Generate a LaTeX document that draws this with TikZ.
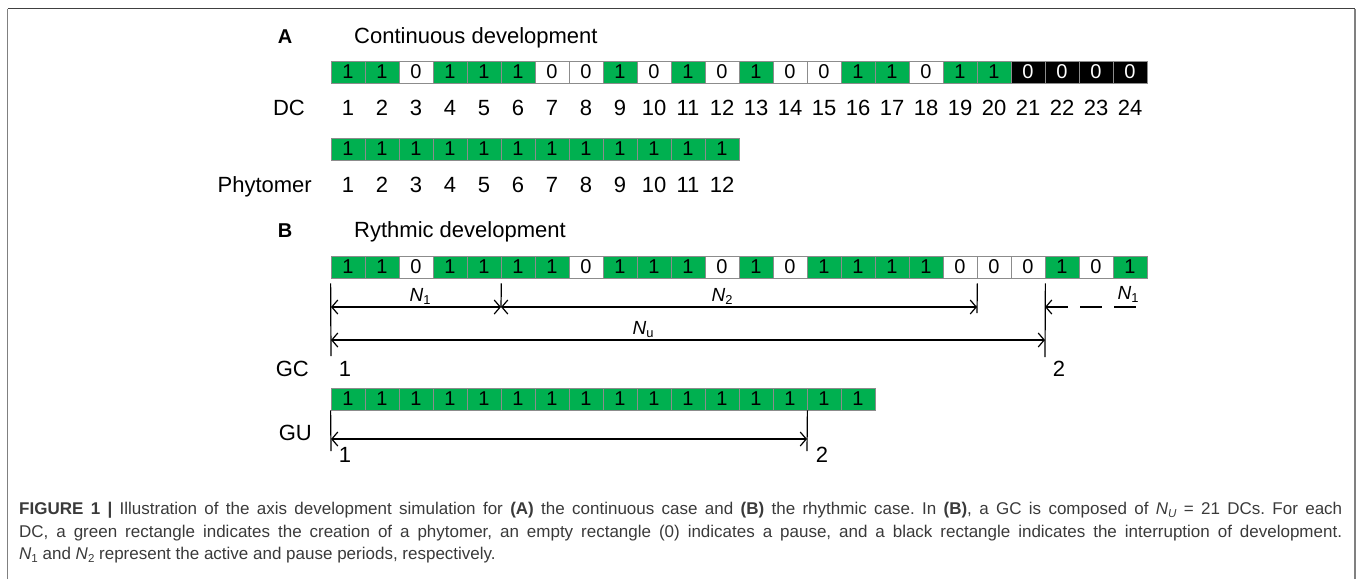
\documentclass[tikz,border=0pt]{standalone}
\usepackage{fontspec}
\setmainfont{Liberation Sans}
\usetikzlibrary{arrows.meta}
\definecolor{dcgreen}{RGB}{0,176,80}
\definecolor{capgray}{RGB}{58,58,58}
\newcommand{\Nidx}[1]{\textit{N}\raisebox{-0.3ex}{\scalebox{0.68}{#1}}}
\frenchspacing

\begin{document}
\begin{tikzpicture}
[
    x=1pt, y=-1pt,
    every node/.style={inner sep=0pt, font=\fontsize{22}{26}\selectfont},
    cell/.style={draw=black!45, line width=0.8pt, minimum width=34pt, minimum height=22pt, font=\fontsize{20}{24}\selectfont},
    cellon/.style={cell, fill=dcgreen},
    celloff/.style={cell, fill=white},
    cellend/.style={cell, fill=black, text=white},
    panel/.style={font=\bfseries\fontsize{20}{24}\selectfont, anchor=base},
    nlabel/.style={font=\fontsize{19}{22}\selectfont, anchor=base},
    dim/.style={line width=1.2pt, {Straight Barb[length=6pt,width=14pt]}-{Straight Barb[length=6pt,width=14pt]}},
    dashdim/.style={line width=1.2pt, dash pattern=on 22pt off 12pt, {Straight Barb[length=6pt,width=14pt]}-},
    tick/.style={line width=1.2pt},
]
\useasboundingbox (0,0) rectangle (1357,579);
\draw[black!50, line width=1.5pt] (7.5,579) -- (7.5,8.5);
\draw[black!50, line width=1.5pt] (1355,579) -- (1355,8.5);
\draw[black!75, line width=1.5pt] (7.5,8.5) -- (1355,8.5);

\node[panel] (lblA) at (285,43) {A};
\node[anchor=base west] (titleA) at (354,43) {Continuous development};
\foreach \s/\t [count=\i] in {on/1,on/1,off/0,on/1,on/1,on/1,off/0,off/0,on/1,off/0,on/1,off/0,
    on/1,off/0,off/0,on/1,on/1,off/0,on/1,on/1,end/0,end/0,end/0,end/0}
    \node[cell\s] (a\i) at (314+34*\i,72) {\t};
\node[anchor=base east] (dc) at (305,115) {DC};
\foreach \i in {1,...,24}
    \node[anchor=base] (an\i) at (314+34*\i,115) {\i};
\foreach \i in {1,...,12}
    \node[cellon] (p\i) at (314+34*\i,149) {1};
\node[anchor=base east] (phyt) at (312,192) {Phytomer};
\foreach \i in {1,...,12}
    \node[anchor=base] (pn\i) at (314+34*\i,192) {\i};

\node[panel] (lblB) at (285,237) {B};
\node[anchor=base west] (titleB) at (354,237) {Rythmic development};
\foreach \s/\t [count=\i] in {on/1,on/1,off/0,on/1,on/1,on/1,on/1,off/0,on/1,on/1,on/1,off/0,
    on/1,off/0,on/1,on/1,on/1,on/1,off/0,off/0,off/0,on/1,off/0,on/1}
    \node[cell\s] (b\i) at (314+34*\i,267) {\t};

\coordinate (k0) at (331,356);
\coordinate (k1) at (501,307);
\coordinate (k2) at (977,313);
\coordinate (k3) at (1045,357);
\coordinate (d0) at (331,307);
\coordinate (d2) at (977,307);
\coordinate (d3) at (1045,307);
\coordinate (d4) at (1136,307);
\coordinate (u0) at (331,340);
\coordinate (u1) at (1045,340);
\draw[tick, shorten <=5pt] (b1.south west) -- (k0);
\draw[tick, shorten <=5pt] (b5.south east) -- (k1);
\draw[tick, shorten <=5pt] (b19.south east) -- (k2);
\draw[tick, shorten <=5pt] (b21.south east) -- (k3);
\draw[dim] (d0) -- (k1);
\draw[dim] (k1) -- (d2);
\draw[dashdim] (d3) -- (d4);
\draw[dim] (u0) -- (u1);
\node[nlabel] (n1) at (420,301) {\Nidx{1}};
\node[nlabel] (n2) at (722,301) {\Nidx{2}};
\node[nlabel] (n1b) at (1128,299) {\Nidx{1}};
\node[nlabel] (nu) at (643,334) {\Nidx{u}};

\node[anchor=base east] (gc) at (309,376) {GC};
\node[anchor=base] (gc1) at (345,376) {1};
\node[anchor=base] (gc2) at (1059,376) {2};

\foreach \i in {1,...,16}
    \node[cellon] (g\i) at (314+34*\i,399) {1};
\coordinate (q0) at (331,451);
\coordinate (q1) at (807,451);
\coordinate (v0) at (331,439);
\coordinate (v1) at (807,439);
\draw[tick] (g1.south west) -- (q0);
\draw[tick] (g14.south east) -- (q1);
\draw[dim] (v0) -- (v1);
\node[anchor=base east] (gu) at (312,440) {GU};
\node[anchor=base] (gu1) at (345,462) {1};
\node[anchor=base] (gu2) at (822,462) {2};

\node[anchor=north west, text width=1323pt, align=justify, text=capgray,
    font=\fontsize{17}{22.5}\selectfont] (caption) at (19,502)
{\tolerance=9999 \textbf{FIGURE 1 |} Illustration of the axis development simulation for \textbf{(A)} the continuous case and \textbf{(B)} the rhythmic case. In \textbf{(B)}, a GC is composed of \textit{N}\raisebox{-0.3ex}{\scalebox{0.68}{\textit{U}}} = 21 DCs. For each\linebreak
DC, a green rectangle indicates the creation of a phytomer, an empty rectangle (0) indicates a pause, and a black rectangle indicates the interruption of development.\linebreak
\Nidx{1} and \Nidx{2} represent the active and pause periods, respectively.};
\end{tikzpicture}
\end{document}
